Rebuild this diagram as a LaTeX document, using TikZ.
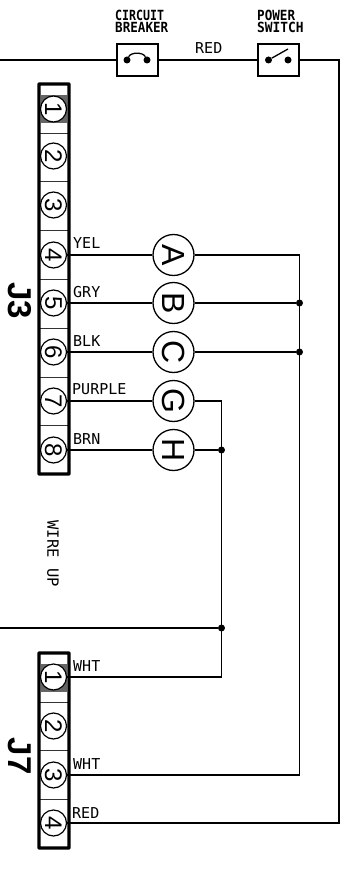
\documentclass[tikz,border=0pt]{standalone}
\usepackage{fontspec}
\setmainfont{Liberation Sans}
\newfontfamily\cadfont{DejaVu Sans Mono}
\tikzset{
  wire/.style={line width=1.3pt,black},
  pinc/.style={circle,draw,fill=white,line width=1.2pt,minimum size=26pt,inner sep=0pt,font=\fontsize{24}{24}\selectfont},
  bigc/.style={circle,draw,fill=white,line width=1.3pt,minimum size=41pt,inner sep=0pt,font=\fontsize{32}{32}\selectfont},
  lab/.style={anchor=base west,inner sep=0pt,font=\cadfont\fontsize{15}{15}\selectfont},
  toplab/.style={anchor=base west,inner sep=0pt,font=\cadfont\bfseries\fontsize{14}{14}\selectfont},
  vlab/.style={rotate=-90,inner sep=0pt,font=\cadfont\fontsize{15.5}{15.5}\selectfont},
  jlab/.style={rotate=-90,inner sep=0pt,font=\bfseries\fontsize{33}{33}\selectfont},
  devbox/.style={draw,line width=1.3pt,minimum width=41pt,minimum height=32pt,inner sep=0pt},
  contact/.style={circle,fill=black,minimum size=7pt,inner sep=0pt},
  junction/.style={circle,fill=black,minimum size=7pt,inner sep=0pt},
  divider/.style={line width=.8pt,black!80}
}
\newcommand{\rt}[1]{\rotatebox{-90}{#1}}
\begin{document}
\begin{tikzpicture}[x=1pt,y=-1pt]
\useasboundingbox (0,0) rectangle (344,877);
% boxes and wires
\coordinate (left1) at (0,60);
\coordinate (left2) at (0,628);
\coordinate (c1) at (339,60);
\coordinate (c2) at (339,823);
\coordinate (busA) at (299.5,255);
\coordinate (busC) at (299.5,775);
\coordinate (busG) at (221.5,401);
\coordinate (busW) at (221.5,677);
\node[junction] (jB) at (299.5,303) {};
\node[junction] (jC) at (299.5,352) {};
\node[junction] (jH) at (221.5,450) {};
\node[junction] (jL) at (221.5,628) {};
\node[devbox] (cb) at (137.5,60) {};
\node[devbox] (ps) at (278.5,60) {};
\node[contact] (cb1) at (127,60) {};
\node[contact] (cb2) at (147,60) {};
\node[contact] (ps1) at (268.5,60) {};
\node[contact] (ps2) at (288,60) {};
\draw[wire] (cb1) .. controls (131,52) and (143,52) .. (cb2);
\draw[wire] (ps1) -- (288,49);
% J3
\fill[black!60] (41,95) rectangle (67,123);
\foreach \y in {133,181,230,279,328,377,425} \draw[divider] (39,\y) -- (69,\y);
\draw[line width=3.2pt,rounded corners=.5pt] (39,84) rectangle (69,474);
\node[pinc] (p1) at (53.5,109) {\rt{1}};
\node[pinc] (p2) at (53.5,156) {\rt{2}};
\node[pinc] (p3) at (53.5,205) {\rt{3}};
\node[pinc] (p4) at (53.5,255) {\rt{4}};
\node[pinc] (p5) at (53.5,303) {\rt{5}};
\node[pinc] (p6) at (53.5,352) {\rt{6}};
\node[pinc] (p7) at (53.5,401) {\rt{7}};
\node[pinc] (p8) at (53.5,450) {\rt{8}};
% J7
\fill[black!60] (41,664) rectangle (67,692);
\foreach \y in {702,750,799} \draw[divider] (39,\y) -- (69,\y);
\draw[line width=3.2pt,rounded corners=.5pt] (39,653) rectangle (69,848);
\node[pinc] (q1) at (53.5,677) {\rt{1}};
\node[pinc] (q2) at (53.5,726) {\rt{2}};
\node[pinc] (q3) at (53.5,775) {\rt{3}};
\node[pinc] (q4) at (53.5,823) {\rt{4}};
% big circles
\node[bigc] (A) at (173.5,255) {\rt{A}};
\node[bigc] (B) at (173.5,303) {\rt{B}};
\node[bigc] (C) at (173.5,352) {\rt{C}};
\node[bigc] (G) at (173.5,401) {\rt{G}};
\node[bigc] (H) at (173.5,450) {\rt{H}};
% connectors
\draw[wire] (left1) -- (cb.west);
\draw[wire] (cb.east) -- (ps.west);
\draw[wire] (ps.east) -- (c1) -- (c2) -- (q4.east);
\draw[wire] (left2) -- (jL);
\draw[wire] (p4.east) -- (A.west);
\draw[wire] (p5.east) -- (B.west);
\draw[wire] (p6.east) -- (C.west);
\draw[wire] (p7.east) -- (G.west);
\draw[wire] (p8.east) -- (H.west);
\draw[wire] (A.east) -- (busA) -- (busC) -- (q3.east);
\draw[wire] (B.east) -- (jB);
\draw[wire] (C.east) -- (jC);
\draw[wire] (G.east) -- (busG) -- (busW) -- (q1.east);
\draw[wire] (H.east) -- (jH);
% labels
\node[toplab] (t1) at (115,20.7) {\scalebox{.83}[1]{CIRCUIT}};
\node[toplab] (t2) at (115,33) {\scalebox{.9}[1]{BREAKER}};
\node[toplab] (t3) at (257,20.7) {\scalebox{.9}[1]{POWER}};
\node[toplab] (t4) at (257,33) {\scalebox{.92}[1]{SWITCH}};
\node[lab] (t5) at (195,54) {RED};
\node[lab] (l1) at (73,248) {YEL};
\node[lab] (l2) at (73,297) {GRY};
\node[lab] (l3) at (73,346) {BLK};
\node[lab] (l4) at (72,394) {PURPLE};
\node[lab] (l5) at (73,444) {BRN};
\node[lab] (l6) at (73,671) {WHT};
\node[lab] (l7) at (73,769) {WHT};
\node[lab] (l8) at (72,818) {RED};
\node[vlab] (w1) at (53,539) {WIRE};
\node[vlab] (w2) at (53,577.5) {UP};
\node[jlab] (J3) at (20,301) {J3};
\node[jlab] (J7) at (20,756) {J7};
\end{tikzpicture}
\end{document}
